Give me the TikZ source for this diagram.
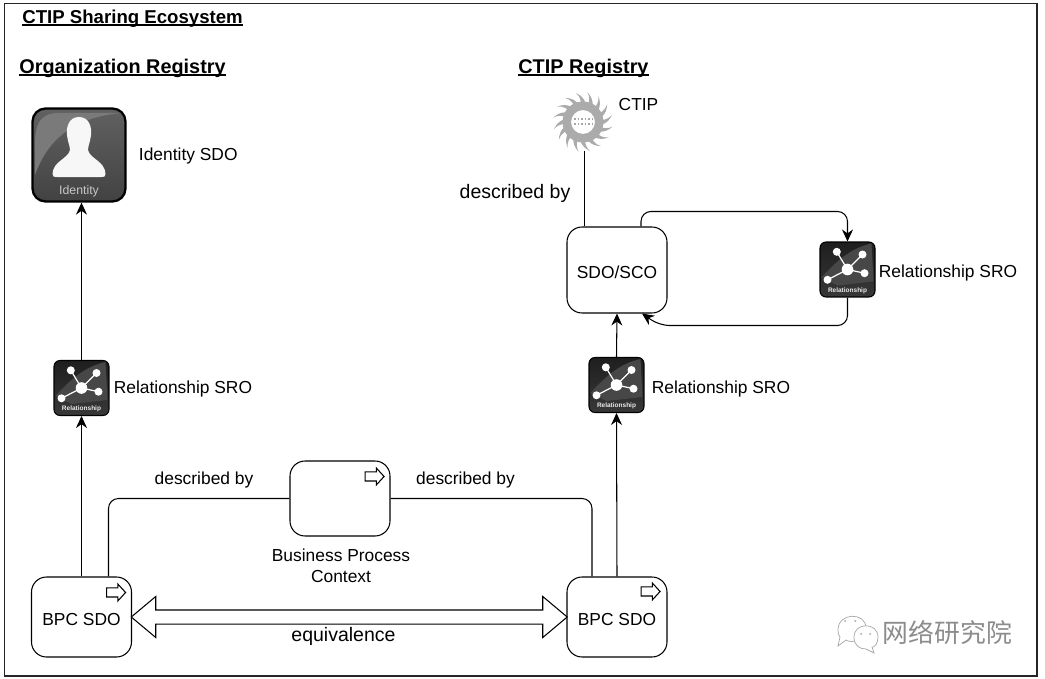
\documentclass[tikz,border=0pt]{standalone}
\usepackage{fontspec}
\setmainfont{Liberation Sans}
\newfontfamily\cjkfont{Noto Sans CJK SC}
\usetikzlibrary{positioning,arrows.meta,shapes.arrows,calc}

\newlength\headwd
\newcommand{\headline}[1]{\settowidth{\headwd}{#1}\rlap{\rule[-1.3pt]{\headwd}{0.8pt}}#1}

\tikzset{
    boxnode/.style={draw, rectangle, rounded corners=0.3cm, minimum width=2cm, minimum height=1.6cm, line width=0.6pt, fill=white, text height=0.33cm, font=\fontsize{9.9}{12}\selectfont},
    relnode/.style={rectangle, rounded corners=0.12cm, draw=black, line width=0.6pt, minimum size=1.1cm, inner sep=0pt, top color=black!88, bottom color=black!78},
    idnode/.style={rectangle, rounded corners=0.26cm, draw=black, line width=1.3pt, minimum size=1.86cm, inner sep=0pt, top color=black!62, bottom color=black!74},
    textnode/.style={inner sep=0pt, font=\fontsize{9.9}{12}\selectfont},
    bigtext/.style={inner sep=0pt, font=\fontsize{11.1}{13}\selectfont},
    headtext/.style={inner sep=0pt, anchor=base west, font=\bfseries\fontsize{11.3}{13}\selectfont},
    link/.style={line width=0.6pt, rounded corners=0.2cm},
    flowarrow/.style={link, -{Stealth[length=0.24cm, width=0.22cm]}},
    flagnode/.style={single arrow, draw, line width=0.6pt, fill=white, minimum height=0.38cm, minimum width=0.32cm, inner sep=0.08cm, single arrow head extend=0.08cm, single arrow tip angle=95},
    bubble/.style={draw=black!35, line width=0.4pt, fill=white},
    netmark/.pic={
        % highlight and network
        \fill[black!72] (-26,-8) .. controls (-8,12) and (6,22) .. (24,26) -- (26,-12) -- (-10,-16) -- cycle;
        \coordinate (hub) at (0,0);
        \foreach \px/\py in {-10.7/17.7, 15/15, 17/-3.7, -20/-10.3} {
            \draw[white, line width=0.7pt] (hub) -- (\px,\py);
            \fill[white] (\px,\py) circle (4);
        }
        \fill[white] (hub) circle (5.8);
        \node[black!8, inner sep=0pt, font=\bfseries\fontsize{3.7}{4}\selectfont] at (0,-21) {Relationship};
    },
    personmark/.pic={
        \fill[black!52] (-44,-20) .. controls (-30,20) and (0,38) .. (42,42) -- (30,42) -- (-20,42) .. controls (-40,42) and (-44,30) .. (-44,10) -- cycle;
        \fill[black!3] (0,38) .. controls (10,38) and (13,28) .. (12,20) .. controls (11,12) and (9,9) .. (9,5)
            .. controls (11,-4) and (26,-6) .. (26.5,-19) .. controls (26.5,-22) and (25,-22) .. (22,-22) -- (-22,-22) .. controls (-25,-22) and (-26.5,-22) .. (-26.5,-19) .. controls (-26,-6) and (-11,-4) .. (-9,5)
            .. controls (-9,9) and (-11,12) .. (-12,20) .. controls (-13,28) and (-10,38) .. (0,38) -- cycle;
        \node[black!22, inner sep=0pt, font=\fontsize{7}{8}\selectfont] at (0,-36) {Identity};
    },
    sunmark/.pic={
        \foreach \ang in {0,22.5,...,337.5} {
            \fill[black!33] (\ang-8:19) .. controls (\ang-2:24) and (\ang+5:27) .. (\ang+14:30)
                .. controls (\ang+7:26) and (\ang+6:22) .. (\ang+6:19) -- cycle;
        }
        \fill[black!33, even odd rule] (0,0) circle (20.5) circle (12);
        \draw[black!35, line width=1.1pt, dash pattern=on 1pt off 1pt] (-9,3) -- (9,3);
        \draw[black!35, line width=1.1pt, dash pattern=on 1pt off 1pt] (-9,-2) -- (9,-2);
    }
}

\begin{document}
\begin{tikzpicture}[x=0.02cm, y=0.02cm]
    \useasboundingbox (0,0) rectangle (1045,-679);
    \draw[line width=0.7pt, black!85] (4.5,-3.5) rectangle (1037,-676);

    % Headings
    \node[headtext, font=\bfseries\fontsize{10.6}{12}\selectfont] (maintitle) at (22,-23.5) {\headline{CTIP Sharing Ecosystem}};
    \node[headtext] (orghead) at (19,-73.5) {\headline{Organization Registry}};
    \node[headtext] (ctiphead) at (518,-73.5) {\headline{CTIP Registry}};

    % Icons
    \node[idnode] (identity) at (79,-155) {};
    \pic at (identity) {personmark};
    \node[relnode] (relleft) at (81.5,-388) {};
    \pic at (relleft) {netmark};
    \node[relnode] (relright) at (616.5,-385) {};
    \pic at (relright) {netmark};
    \node[relnode] (relloop) at (847.5,-269.5) {};
    \pic at (relloop) {netmark};
    \node[circle, minimum size=1.16cm, inner sep=0pt] (ctip) at (583,-122) {};
    \pic at (ctip) {sunmark};

    % Boxes
    \node[boxnode] (sdosco) at (617,-270) [minimum height=1.72cm] {SDO/SCO};
    \node[boxnode] (bpcleft) at (81.5,-617) {BPC SDO};
    \node[boxnode] (bpcright) at (617,-617) {BPC SDO};
    \node[boxnode, minimum height=1.5cm] (context) at (340,-498.5) {};

    % Small arrows in the boxes
    \node[flagnode] (flagleft) at ($(bpcleft.north east)+(-18,-16)$) {};
    \node[flagnode] (flagright) at ($(bpcright.north east)+(-19,-15)$) {};
    \node[flagnode] (flagcontext) at ($(context.north east)+(-18,-16)$) {};

    % Labels
    \node[textnode, right=0.24cm of identity, yshift=-0.02cm] (identitylabel) {Identity SDO};
    \node[textnode, right=0.08cm of relleft, yshift=-0.02cm] (relleftlabel) {Relationship SRO};
    \node[textnode, right=0.14cm of relright, yshift=-0.08cm] (relrightlabel) {Relationship SRO};
    \node[textnode, right=0.06cm of relloop, yshift=-0.08cm] (rellooplabel) {Relationship SRO};
    \node[textnode] (ctiplabel) at (638.5,-105) {CTIP};
    \node[bigtext] (describedtop) at (515,-193) {described by};
    \node[textnode] (describedleft) at (204,-480) {described by};
    \node[textnode] (describedright) at (465.5,-480) {described by};
    \node[textnode, align=center, below=0.24cm of context, xshift=0.02cm] (contextlabel) {Business Process\\Context};
    \node[bigtext] (equivlabel) at (343.5,-636) {equivalence};

    % Connectors
    \draw[flowarrow] (bpcleft.north) -- (relleft.south);
    \draw[flowarrow] (relleft.north) -- (identity.south -| relleft.north);
    \draw[flowarrow] (bpcright.north) -- (relright.south);
    \draw[flowarrow] (relright.north) -- (sdosco.south);
    \draw[link] ([xshift=0.54cm]bpcleft.north) |- (context.west);
    \draw[link] (context.east) -| ([xshift=-0.5cm]bpcright.north);
    \draw[link] ([xshift=0.03cm]ctip.south) -- ([xshift=0.03cm]ctip.south |- sdosco.north);
    \draw[flowarrow] ([xshift=0.48cm]sdosco.north) -- ++(0,15) -| (relloop.north);
    \draw[flowarrow] (relloop.south) |- ++(-188,-28) -- ([xshift=0.5cm]sdosco.south);

    % Equivalence arrow
    \node[double arrow, draw, line width=0.6pt, fill=white, minimum height=8.72cm, minimum width=0.8cm, inner sep=0.13cm, double arrow head extend=0.27cm, double arrow tip angle=80] (equiv) at ($(bpcleft.east)!0.5!(bpcright.west)$) {};

    % Watermark
    \draw[bubble] (838,-630) .. controls (838,-612) and (866,-612) .. (866,-628) .. controls (866,-640) and (852,-644) .. (846,-640) -- (838,-646) -- (840,-637) .. controls (838,-634) and (838,-632) .. (838,-630) -- cycle;
    \draw[bubble] (854,-637) .. controls (854,-622) and (878,-622) .. (878,-637) .. controls (878,-644) and (874,-648) .. (872,-647) -- (874,-653) -- (866,-649) .. controls (860,-649) and (854,-646) .. (854,-637) -- cycle;
    \foreach \ex/\ey in {845/-621, 855/-621, 861/-634, 870/-634} {
        \fill[black!35] (\ex,\ey) circle (1);
    }
    \node[black!45, inner sep=0pt, font=\cjkfont\fontsize{14.7}{16}\selectfont] (watermark) at (947.5,-633) {网络研究院};
\end{tikzpicture}
\end{document}
